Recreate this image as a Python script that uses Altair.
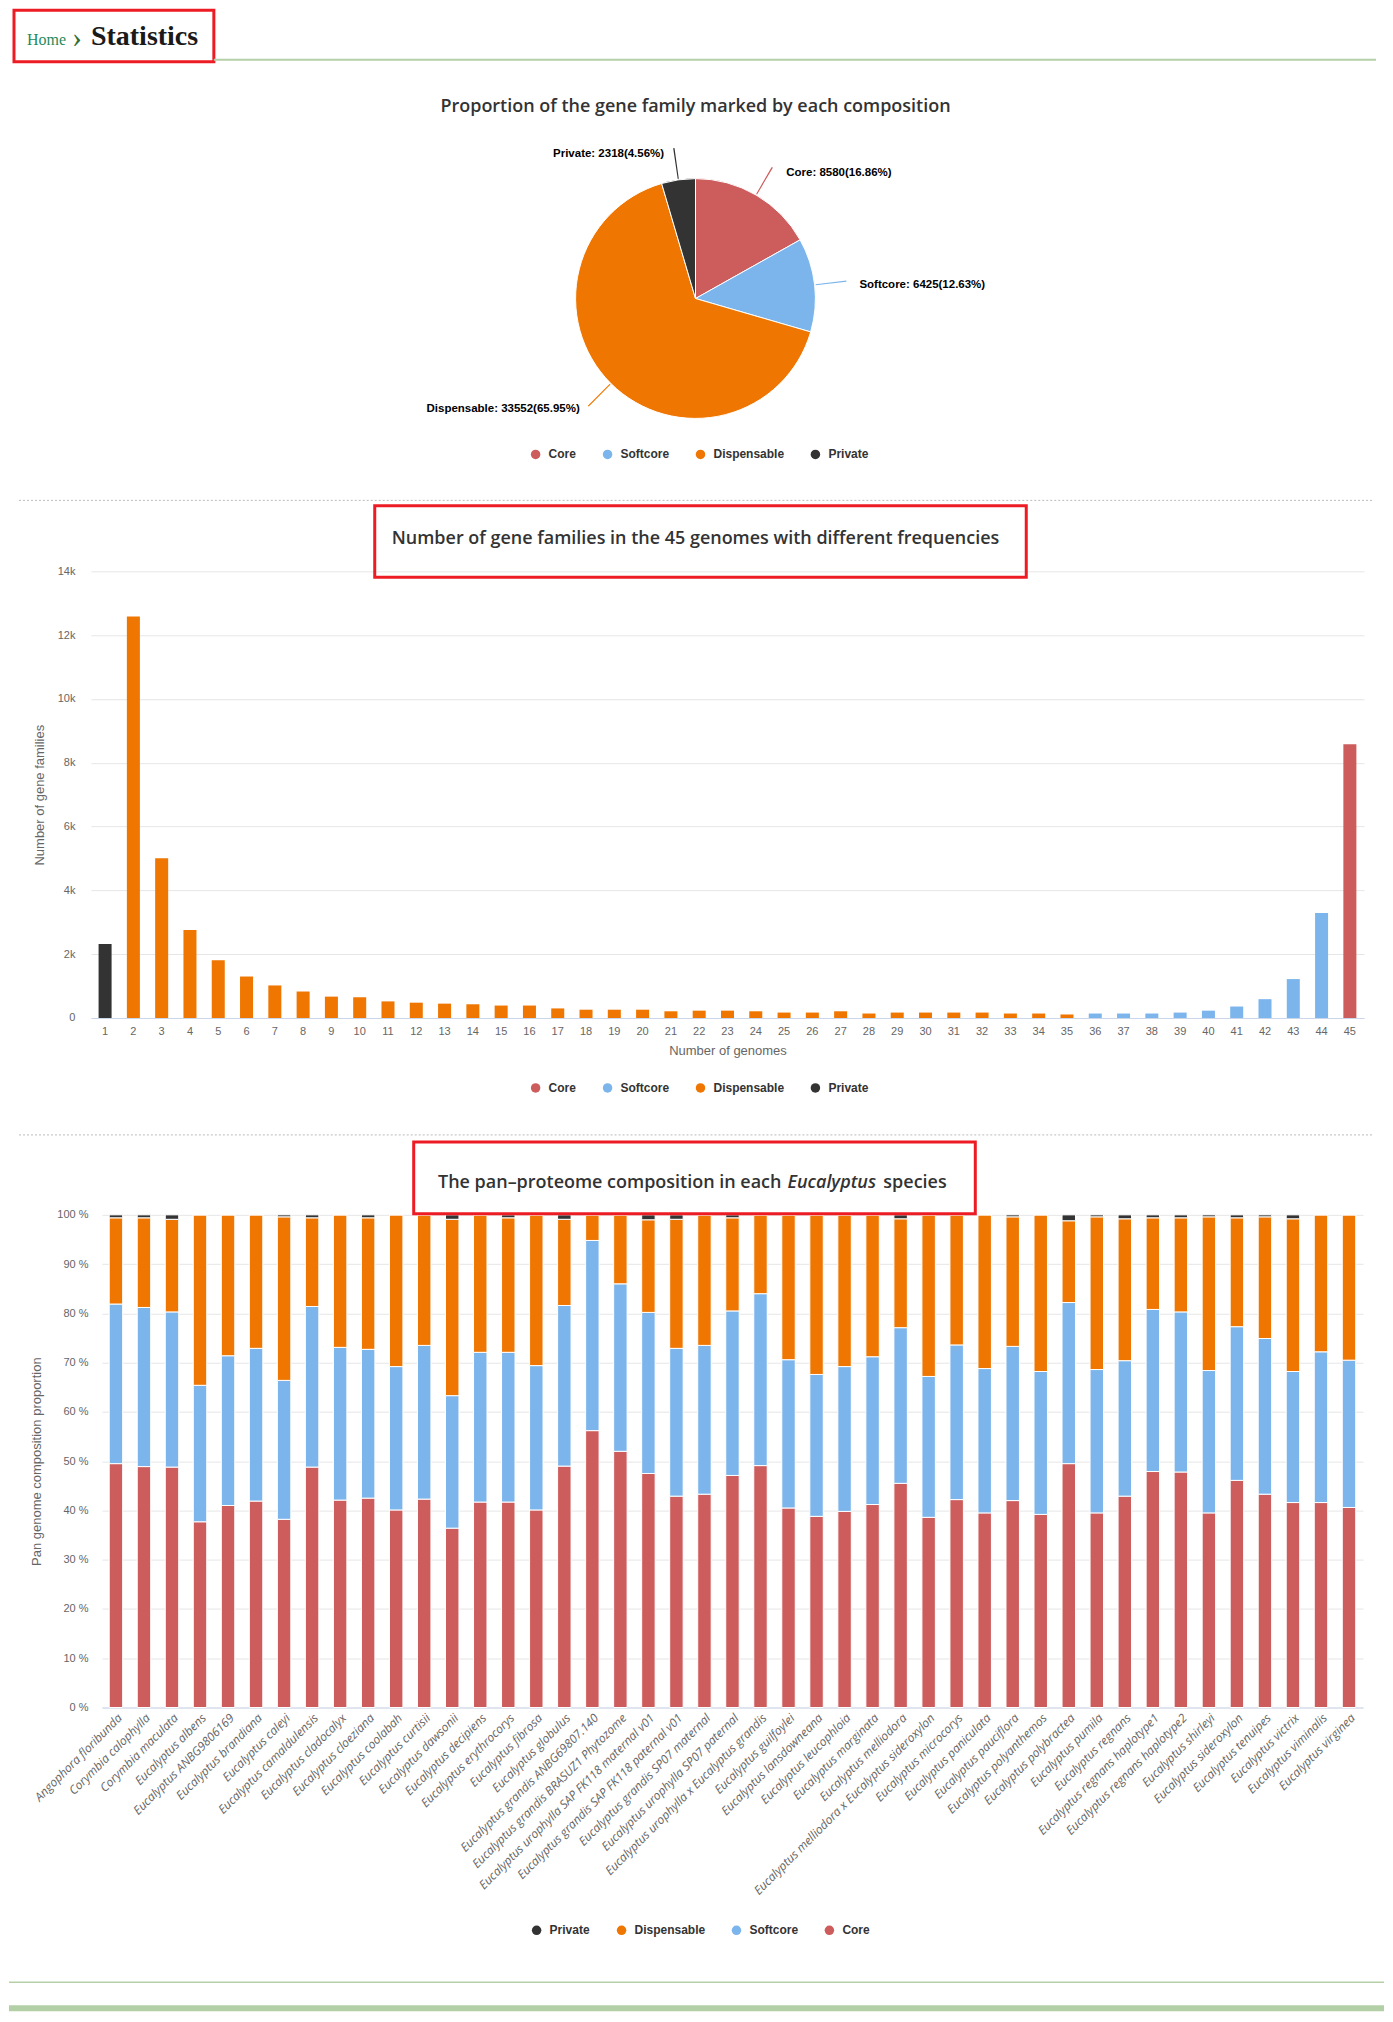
import altair as alt
import pandas as pd

# ---------------- data ----------------
categories = ["Core", "Softcore", "Dispensable", "Private"]
palette = ["#CD5C5C", "#7CB5EC", "#EF7600", "#333333"]
family_totals = [8580, 6425, 33552, 2318]

genomes = list(range(1, 46))
genome_counts = [2318, 12580, 5010, 2760, 1810, 1300, 1020, 830, 670, 650,
                 520, 480, 450, 430, 390, 390, 300, 260, 260, 260,
                 210, 230, 230, 210, 170, 170, 210, 140, 170, 170,
                 170, 170, 140, 140, 110, 140, 140, 140, 170, 230,
                 360, 590, 1220, 3290, 8580]
genome_class = ["Private"] + ["Dispensable"] * 34 + ["Softcore"] * 9 + ["Core"]
count_ticks = [0, 2000, 4000, 6000, 8000, 10000, 12000, 14000]

species = [
    "Angophora floribunda", "Corymbia calophylla", "Corymbia maculata",
    "Eucalyptus albens", "Eucalyptus ANBG9806169", "Eucalyptus brandiana",
    "Eucalyptus caleyi", "Eucalyptus camaldulensis", "Eucalyptus cladocalyx",
    "Eucalyptus cloeziana", "Eucalyptus coolabah", "Eucalyptus curtisii",
    "Eucalyptus dawsonii", "Eucalyptus decipiens", "Eucalyptus erythrocorys",
    "Eucalyptus fibrosa", "Eucalyptus globulus", "Eucalyptus grandis ANBG69807.140",
    "Eucalyptus grandis BRASUZ1 Phytozome", "Eucalyptus urophylla SAP FK118 maternal v01",
    "Eucalyptus grandis SAP FK118 paternal v01", "Eucalyptus grandis SP07 maternal",
    "Eucalyptus urophylla SP07 paternal", "Eucalyptus urophylla x Eucalyptus grandis",
    "Eucalyptus guilfoylei", "Eucalyptus lansdowneana", "Eucalyptus leucophloia",
    "Eucalyptus marginata", "Eucalyptus melliodora",
    "Eucalyptus melliodora x Eucalyptus sideroxylon", "Eucalyptus microcorys",
    "Eucalyptus paniculata", "Eucalyptus pauciflora", "Eucalyptus polyanthemos",
    "Eucalyptus polybractea", "Eucalyptus pumila", "Eucalyptus regnans",
    "Eucalyptus regnans haplotype1", "Eucalyptus regnans haplotype2",
    "Eucalyptus shirleyi", "Eucalyptus sideroxylon", "Eucalyptus tenuipes",
    "Eucalyptus victrix", "Eucalyptus viminalis", "Eucalyptus virginea",
]
core_pct = [49.5, 48.9, 48.8, 37.7, 41.0, 41.9, 38.2, 48.8, 42.1, 42.5,
            40.1, 42.3, 36.4, 41.7, 41.7, 40.1, 49.0, 56.2, 52.0, 47.5,
            42.9, 43.3, 47.1, 49.1, 40.5, 38.8, 39.8, 41.2, 45.5, 38.6,
            42.2, 39.5, 42.0, 39.2, 49.5, 39.5, 42.9, 47.9, 47.8, 39.5,
            46.1, 43.3, 41.6, 41.6, 40.6]
softcore_pct = [32.4, 32.3, 31.5, 27.7, 30.4, 31.0, 28.2, 32.6, 31.0, 30.2,
                29.1, 31.2, 26.9, 30.4, 30.4, 29.3, 32.6, 38.6, 34.0, 32.7,
                30.0, 30.2, 33.4, 34.9, 30.1, 28.8, 29.4, 30.0, 31.6, 28.6,
                31.4, 29.3, 31.3, 29.0, 32.7, 29.1, 27.5, 32.9, 32.5, 28.9,
                31.2, 31.6, 26.6, 30.6, 29.9]
dispensable_pct = [17.5, 18.2, 18.8, 34.6, 28.6, 27.1, 33.2, 18.0, 26.9, 26.7,
                   30.8, 26.5, 35.8, 27.9, 27.3, 30.6, 17.5, 5.2, 14.0, 18.8,
                   26.2, 26.5, 18.9, 16.0, 29.4, 32.4, 30.8, 28.8, 22.1, 32.8,
                   26.4, 31.2, 26.3, 31.8, 16.6, 31.0, 28.8, 18.6, 19.1, 31.2,
                   22.1, 24.7, 31.0, 27.8, 29.5]
private_pct = [0.6, 0.6, 0.9, 0.0, 0.0, 0.0, 0.4, 0.6, 0.0, 0.6,
               0.0, 0.0, 0.9, 0.0, 0.6, 0.0, 0.9, 0.0, 0.0, 1.0,
               0.9, 0.0, 0.6, 0.0, 0.0, 0.0, 0.0, 0.0, 0.8, 0.0,
               0.0, 0.0, 0.4, 0.0, 1.2, 0.4, 0.8, 0.6, 0.6, 0.4,
               0.6, 0.4, 0.8, 0.0, 0.0]
pct_ticks = [0, 10, 20, 30, 40, 50, 60, 70, 80, 90, 100]
stack_order = ["Private", "Dispensable", "Softcore", "Core"]

TITLE_FONT = "Open Sans"
AXIS_FONT = "Liberation Sans"
RED = "#ED1C24"
GREEN_LINE = "#B5CFA8"

one = pd.DataFrame({"k": [0]})


def deco():
    return alt.Chart(one)


def frame(y0, y1):
    return deco().mark_rect(opacity=0).encode(
        x=alt.value(-82), x2=alt.value(1294), y=alt.value(y0), y2=alt.value(y1))


def red_box(x0, x1, y0, y1):
    return deco().mark_rect(fillOpacity=0, stroke=RED, strokeWidth=3).encode(
        x=alt.value(x0), x2=alt.value(x1), y=alt.value(y0), y2=alt.value(y1))


def hline(y, x0, x1, color, width, dash=None):
    props = dict(color=color, strokeWidth=width)
    if dash:
        props["strokeDash"] = dash
    return deco().mark_rule(**props).encode(
        x=alt.value(x0), x2=alt.value(x1), y=alt.value(y))


def text(s, x, y, **kw):
    return deco().mark_text(**kw).encode(
        x=alt.value(x), y=alt.value(y), text=alt.value(s))


def title_text(s, x, y, align="center", style="normal"):
    return text(s, x, y, align=align, baseline="middle", font=TITLE_FONT,
                fontSize=18, fontWeight=600, fontStyle=style, color="#333333")


def legend(x, y):
    return alt.Legend(orient="none", legendX=x, legendY=y, direction="horizontal",
                      title=None, symbolType="circle", symbolSize=90,
                      symbolStrokeWidth=0, labelFont=AXIS_FONT, labelFontSize=12,
                      labelFontWeight="bold", labelColor="#333333",
                      labelOffset=7, columnPadding=25)


AXIS_TITLE = dict(titleColor="#666666", titleFontSize=13, titleFontWeight="normal")

# ---------------- top: header + pie ----------------
total = sum(family_totals)
pie_df = pd.DataFrame({"category": categories, "value": family_totals,
                       "idx": list(range(len(categories)))})
pie_df["label"] = [f"{c}: {v}({v / total * 100:.2f}%)"
                   for c, v in zip(categories, family_totals)]

theta_scale = alt.Scale(domain=[0, total])
pie_color = alt.Color("category:N", scale=alt.Scale(domain=categories, range=palette),
                      legend=legend(439, 440))
CX, CY = 605, 290

pie = alt.Chart(pie_df).mark_arc(radius=120, stroke="white", strokeWidth=1).encode(
    theta=alt.Theta("value:Q", stack=True, scale=theta_scale),
    order=alt.Order("idx:Q"),
    color=pie_color, x=alt.value(CX), y=alt.value(CY))

lab = (alt.Chart(pie_df)
       .transform_window(cum="sum(value)", sort=[alt.SortField("idx")])
       .transform_joinaggregate(tot="sum(value)")
       .transform_calculate(mid="datum.cum - datum.value / 2")
       .transform_calculate(t0="datum.mid - datum.tot * 0.0007",
                            t1="datum.mid + datum.tot * 0.0007"))

connectors = lab.mark_arc(radius=152, radius2=121).encode(
    theta=alt.Theta("t0:Q", scale=theta_scale), theta2="t1:Q",
    color=pie_color, x=alt.value(CX), y=alt.value(CY))

lab_style = dict(baseline="middle", font=AXIS_FONT, fontSize=11.5,
                 fontWeight="bold", color="#000000", dy=4)
right_labels = lab.transform_filter("datum.mid < datum.tot / 2").mark_text(
    radius=150, dx=15, align="left", **lab_style).encode(
    theta=alt.Theta("mid:Q", stack=False, scale=theta_scale), text="label:N",
    x=alt.value(CX), y=alt.value(CY))
left_labels = lab.transform_filter("datum.mid >= datum.tot / 2").mark_text(
    radius=150, dx=-10, align="right", **lab_style).encode(
    theta=alt.Theta("mid:Q", stack=False, scale=theta_scale), text="label:N",
    x=alt.value(CX), y=alt.value(CY))

top = alt.layer(
    frame(0, 496),
    red_box(-77, 123, 1.5, 53),
    text("Home", -64, 36, align="left", baseline="alphabetic",
         font="Liberation Serif", fontSize=16, color="#1F8A5B"),
    text("\u203a", -19, 38, align="left", baseline="alphabetic",
         font="Liberation Serif", fontSize=30, color="#2E6B34"),
    text("Statistics", 0, 36, align="left", baseline="alphabetic",
         font="Liberation Serif", fontSize=28, fontWeight="bold", color="#1A1A1A"),
    hline(51, 123, 1286, GREEN_LINE, 2),
    title_text("Proportion of the gene family marked by each composition", 605, 98),
    pie, connectors, right_labels, left_labels,
    hline(492, -72, 1283, "#BBBBBB", 1, [2, 2]),
).properties(width=1274, height=496)

# ---------------- middle: frequency bars ----------------
bars_df = pd.DataFrame({"genome": genomes, "count": genome_counts, "class": genome_class})
bars = alt.Chart(bars_df).mark_bar().encode(
    x=alt.X("genome:O", sort=genomes, scale=alt.Scale(paddingInner=0.54),
            axis=alt.Axis(title="Number of genomes", labelAngle=0, ticks=False,
                          domainColor="#CCD6EB", labelColor="#666666", labelFontSize=11,
                          labelPadding=8, titlePadding=8, grid=False, **AXIS_TITLE)),
    y=alt.Y("count:Q", scale=alt.Scale(domain=[count_ticks[0], count_ticks[-1]], nice=False),
            axis=alt.Axis(values=count_ticks,
                          labelExpr="datum.value == 0 ? '0' : (datum.value / 1000) + 'k'",
                          title="Number of gene families", domain=False, ticks=False,
                          gridColor="#E6E6E6", labelColor="#666666", labelFontSize=11,
                          labelPadding=16, titlePadding=11, **AXIS_TITLE)),
    color=alt.Color("class:N", scale=alt.Scale(domain=categories, range=palette),
                    legend=legend(439, 511)),
)

mid = alt.layer(
    frame(-67, 568),
    bars,
    title_text("Number of gene families in the 45 genomes with different frequencies", 605, -32),
    red_box(284, 936, -65.5, 6),
    hline(564, -72, 1283, "#BBBBBB", 1, [2, 2]),
).properties(width=1274, height=447)

# ---------------- bottom: stacked composition ----------------
rows = []
for i, sp in enumerate(species):
    for cat, arr, o in (("Core", core_pct, 0), ("Softcore", softcore_pct, 1),
                        ("Dispensable", dispensable_pct, 2), ("Private", private_pct, 3)):
        rows.append({"species": sp, "category": cat, "pct": arr[i], "order": o})
stack_df = pd.DataFrame(rows)

stacked = alt.Chart(stack_df).mark_bar(stroke="white", strokeWidth=1).encode(
    x=alt.X("species:N", sort=species,
            scale=alt.Scale(range=[11, 1273], paddingInner=0.52),
            axis=alt.Axis(title=None, labelAngle=-45, labelAlign="right",
                          labelBaseline="middle", labelFont=TITLE_FONT,
                          labelFontStyle="italic", labelFontSize=12,
                          labelColor="#666666", labelLimit=400, labelPadding=8,
                          labelOffset=4, ticks=False, domainColor="#CCD6EB", grid=False)),
    y=alt.Y("pct:Q", stack="zero",
            scale=alt.Scale(domain=[pct_ticks[0], pct_ticks[-1]], nice=False),
            axis=alt.Axis(values=pct_ticks, labelExpr="datum.value + ' %'",
                          title="Pan genome composition proportion", domain=False,
                          ticks=False, gridColor="#E6E6E6", labelColor="#666666",
                          labelFontSize=11, labelPadding=3, titlePadding=13, **AXIS_TITLE)),
    color=alt.Color("category:N",
                    scale=alt.Scale(domain=stack_order,
                                    range=[palette[categories.index(c)] for c in stack_order]),
                    legend=legend(440, 710)),
    order=alt.Order("order:Q"),
)

bottom = alt.layer(
    frame(-76, 797),
    stacked,
    title_text("The pan\u2013proteome composition in each", 691, -32, align="right"),
    title_text("Eucalyptus", 697, -32, align="left", style="italic"),
    title_text("species", 793, -32, align="left"),
    red_box(323, 885, -73, -1),
    hline(768, -82, 1294, GREEN_LINE, 1.5),
    deco().mark_rect(color="#B3CFA5").encode(
        x=alt.value(-82), x2=alt.value(1294), y=alt.value(791), y2=alt.value(797)),
).properties(width=1273, height=493)

chart = (alt.vconcat(top, mid, bottom, spacing=0)
         .resolve_scale(color="independent")
         .resolve_legend(color="independent")
         .properties(padding=0, background="white")
         .configure_view(strokeWidth=0)
         .configure_axis(labelFont=AXIS_FONT, titleFont=AXIS_FONT))

chart.save("out.html", embed_options={"renderer": "svg", "actions": False})
